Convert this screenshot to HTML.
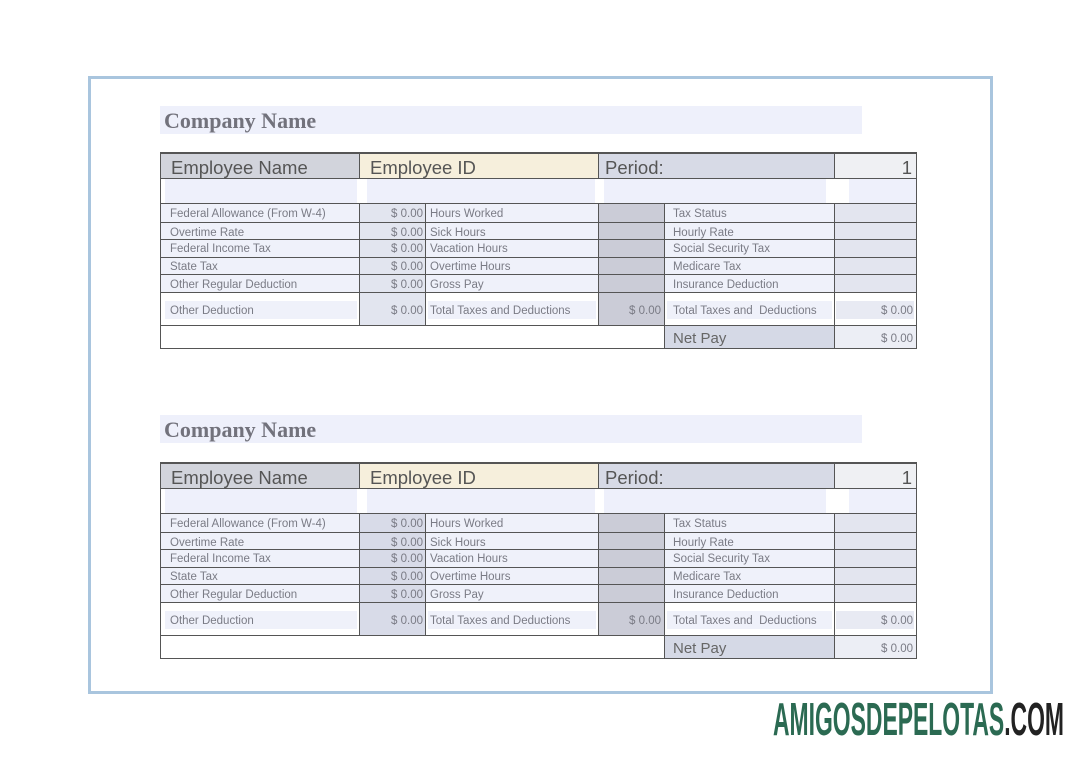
<!DOCTYPE html>
<html><head><meta charset="utf-8"><style>
*{margin:0;padding:0;box-sizing:border-box}
body{width:1085px;height:757px;background:#fff;position:relative;overflow:hidden;font-family:"Liberation Sans",sans-serif}
.frame{position:absolute;left:88px;top:76px;width:905px;height:618px;border:3px solid #a9c5de}
.a{position:absolute}
.co{position:absolute;left:160px;width:702px;height:28px;background:#eef0fb;font-family:"Liberation Serif",serif;font-weight:bold;font-size:22px;color:#72727c;padding-left:4px;line-height:30px}
.t{position:absolute;left:0;top:0;width:1085px;height:200px}
.h{position:absolute;height:1px;background:#555}
.v{position:absolute;width:1px;background:#555}
.tx{position:absolute;font-size:11.5px;color:#7a7b85;white-space:nowrap;margin-top:2px}
.r{text-align:right}
.hd{position:absolute;font-size:18.5px;color:#555;white-space:nowrap;margin-top:2px}
.wm{position:absolute;left:0;top:0}
</style></head><body>
<div class="frame"></div>

<div class="co" style="top:106px">Company Name</div>
<div class="t" style="top:152px">
 <div class="a" style="left:160px;top:0;width:199px;height:26px;background:#d2d4dc"></div>
 <div class="a" style="left:359px;top:0;width:239px;height:26px;background:#f6efdc"></div>
 <div class="a" style="left:598px;top:0;width:236px;height:26px;background:#d7dae6"></div>
 <div class="a" style="left:834px;top:0;width:82px;height:26px;background:#eff0f3"></div>
 <div class="a" style="left:165px;top:27px;width:192px;height:24px;background:#eef0fb"></div>
 <div class="a" style="left:367px;top:27px;width:228px;height:24px;background:#eef0fb"></div>
 <div class="a" style="left:604px;top:27px;width:222px;height:24px;background:#eef0fb"></div>
 <div class="a" style="left:849px;top:27px;width:67px;height:24px;background:#eef0fb"></div>
 <div class="a" style="left:160px;top:51px;width:199px;height:89px;background:#eff1fa"></div>
 <div class="a" style="left:359px;top:51px;width:66px;height:122px;background:#e2e5ef"></div>
 <div class="a" style="left:425px;top:51px;width:173px;height:89px;background:#eff1fa"></div>
 <div class="a" style="left:598px;top:51px;width:66px;height:122px;background:#cbccd7"></div>
 <div class="a" style="left:664px;top:51px;width:170px;height:89px;background:#eff1fa"></div>
 <div class="a" style="left:834px;top:51px;width:82px;height:89px;background:#e3e5ef"></div>
 <div class="a" style="left:165px;top:149px;width:192px;height:18px;background:#eff1fa"></div>
 <div class="a" style="left:428px;top:149px;width:168px;height:18px;background:#eff1fa"></div>
 <div class="a" style="left:667px;top:149px;width:165px;height:18px;background:#eff1fa"></div>
 <div class="a" style="left:836px;top:149px;width:78px;height:18px;background:#e8eaf3"></div>
 <div class="a" style="left:664px;top:173px;width:170px;height:23px;background:#d5d9e6"></div>
 <div class="a" style="left:834px;top:173px;width:82px;height:23px;background:#eceef5"></div>
 <div class="h" style="left:160px;top:0;width:757px;height:2px"></div>
 <div class="h" style="left:160px;top:26px;width:757px"></div>
 <div class="h" style="left:160px;top:51px;width:757px"></div>
 <div class="h" style="left:160px;top:70px;width:757px"></div>
 <div class="h" style="left:160px;top:87px;width:757px"></div>
 <div class="h" style="left:160px;top:105px;width:757px"></div>
 <div class="h" style="left:160px;top:122px;width:757px"></div>
 <div class="h" style="left:160px;top:140px;width:757px"></div>
 <div class="h" style="left:160px;top:173px;width:757px"></div>
 <div class="h" style="left:160px;top:196px;width:757px"></div>
 <div class="v" style="left:160px;top:0;height:197px"></div>
 <div class="v" style="left:916px;top:0;height:197px"></div>
 <div class="v" style="left:359px;top:0;height:26px"></div>
 <div class="v" style="left:359px;top:51px;height:122px"></div>
 <div class="v" style="left:425px;top:51px;height:122px"></div>
 <div class="v" style="left:598px;top:0;height:26px"></div>
 <div class="v" style="left:598px;top:51px;height:122px"></div>
 <div class="v" style="left:664px;top:51px;height:145px"></div>
 <div class="v" style="left:834px;top:0;height:26px"></div>
 <div class="v" style="left:834px;top:51px;height:145px"></div>
 <div class="hd" style="left:171px;top:3px">Employee Name</div>
 <div class="hd" style="left:370px;top:3px">Employee ID</div>
 <div class="hd" style="left:605px;top:3px">Period:</div>
 <div class="hd r" style="left:840px;top:3px;width:72px">1</div>
 <div class="tx" style="left:170px;top:54px">Federal Allowance (From W-4)</div>
 <div class="tx" style="left:170px;top:73px">Overtime Rate</div>
 <div class="tx" style="left:170px;top:89px">Federal Income Tax</div>
 <div class="tx" style="left:170px;top:107px">State Tax</div>
 <div class="tx" style="left:170px;top:125px">Other Regular Deduction</div>
 <div class="tx" style="left:170px;top:151px">Other Deduction</div>
 <div class="tx r" style="left:360px;top:54px;width:63px">$ 0.00</div>
 <div class="tx r" style="left:360px;top:73px;width:63px">$ 0.00</div>
 <div class="tx r" style="left:360px;top:89px;width:63px">$ 0.00</div>
 <div class="tx r" style="left:360px;top:107px;width:63px">$ 0.00</div>
 <div class="tx r" style="left:360px;top:125px;width:63px">$ 0.00</div>
 <div class="tx r" style="left:360px;top:151px;width:63px">$ 0.00</div>
 <div class="tx" style="left:430px;top:54px">Hours Worked</div>
 <div class="tx" style="left:430px;top:73px">Sick Hours</div>
 <div class="tx" style="left:430px;top:89px">Vacation Hours</div>
 <div class="tx" style="left:430px;top:107px">Overtime Hours</div>
 <div class="tx" style="left:430px;top:125px">Gross Pay</div>
 <div class="tx" style="left:430px;top:151px">Total Taxes and Deductions</div>
 <div class="tx r" style="left:599px;top:151px;width:62px">$ 0.00</div>
 <div class="tx" style="left:673px;top:54px">Tax Status</div>
 <div class="tx" style="left:673px;top:73px">Hourly Rate</div>
 <div class="tx" style="left:673px;top:89px">Social Security Tax</div>
 <div class="tx" style="left:673px;top:107px">Medicare Tax</div>
 <div class="tx" style="left:673px;top:125px">Insurance Deduction</div>
 <div class="tx" style="left:673px;top:151px">Total Taxes and&nbsp; Deductions</div>
 <div class="tx r" style="left:835px;top:151px;width:78px">$ 0.00</div>
 <div class="hd" style="left:673px;top:176px;font-size:15px;color:#666">Net Pay</div>
 <div class="tx r" style="left:835px;top:179px;width:78px">$ 0.00</div>
</div>

<div class="co" style="top:415px">Company Name</div>
<div class="t" style="top:462px">
 <div class="a" style="left:160px;top:0;width:199px;height:26px;background:#d2d4dc"></div>
 <div class="a" style="left:359px;top:0;width:239px;height:26px;background:#f6efdc"></div>
 <div class="a" style="left:598px;top:0;width:236px;height:26px;background:#d7dae6"></div>
 <div class="a" style="left:834px;top:0;width:82px;height:26px;background:#eff0f3"></div>
 <div class="a" style="left:165px;top:27px;width:192px;height:24px;background:#eef0fb"></div>
 <div class="a" style="left:367px;top:27px;width:228px;height:24px;background:#eef0fb"></div>
 <div class="a" style="left:604px;top:27px;width:222px;height:24px;background:#eef0fb"></div>
 <div class="a" style="left:849px;top:27px;width:67px;height:24px;background:#eef0fb"></div>
 <div class="a" style="left:160px;top:51px;width:199px;height:89px;background:#eff1fa"></div>
 <div class="a" style="left:359px;top:51px;width:66px;height:122px;background:#d8dbe8"></div>
 <div class="a" style="left:425px;top:51px;width:173px;height:89px;background:#eff1fa"></div>
 <div class="a" style="left:598px;top:51px;width:66px;height:122px;background:#cbccd7"></div>
 <div class="a" style="left:664px;top:51px;width:170px;height:89px;background:#eff1fa"></div>
 <div class="a" style="left:834px;top:51px;width:82px;height:89px;background:#e3e5ef"></div>
 <div class="a" style="left:165px;top:149px;width:192px;height:18px;background:#eff1fa"></div>
 <div class="a" style="left:428px;top:149px;width:168px;height:18px;background:#eff1fa"></div>
 <div class="a" style="left:667px;top:149px;width:165px;height:18px;background:#eff1fa"></div>
 <div class="a" style="left:836px;top:149px;width:78px;height:18px;background:#e8eaf3"></div>
 <div class="a" style="left:664px;top:173px;width:170px;height:23px;background:#d5d9e6"></div>
 <div class="a" style="left:834px;top:173px;width:82px;height:23px;background:#eceef5"></div>
 <div class="h" style="left:160px;top:0;width:757px;height:2px"></div>
 <div class="h" style="left:160px;top:26px;width:757px"></div>
 <div class="h" style="left:160px;top:51px;width:757px"></div>
 <div class="h" style="left:160px;top:70px;width:757px"></div>
 <div class="h" style="left:160px;top:87px;width:757px"></div>
 <div class="h" style="left:160px;top:105px;width:757px"></div>
 <div class="h" style="left:160px;top:122px;width:757px"></div>
 <div class="h" style="left:160px;top:140px;width:757px"></div>
 <div class="h" style="left:160px;top:173px;width:757px"></div>
 <div class="h" style="left:160px;top:196px;width:757px"></div>
 <div class="v" style="left:160px;top:0;height:197px"></div>
 <div class="v" style="left:916px;top:0;height:197px"></div>
 <div class="v" style="left:359px;top:0;height:26px"></div>
 <div class="v" style="left:359px;top:51px;height:122px"></div>
 <div class="v" style="left:425px;top:51px;height:122px"></div>
 <div class="v" style="left:598px;top:0;height:26px"></div>
 <div class="v" style="left:598px;top:51px;height:122px"></div>
 <div class="v" style="left:664px;top:51px;height:145px"></div>
 <div class="v" style="left:834px;top:0;height:26px"></div>
 <div class="v" style="left:834px;top:51px;height:145px"></div>
 <div class="hd" style="left:171px;top:3px">Employee Name</div>
 <div class="hd" style="left:370px;top:3px">Employee ID</div>
 <div class="hd" style="left:605px;top:3px">Period:</div>
 <div class="hd r" style="left:840px;top:3px;width:72px">1</div>
 <div class="tx" style="left:170px;top:54px">Federal Allowance (From W-4)</div>
 <div class="tx" style="left:170px;top:73px">Overtime Rate</div>
 <div class="tx" style="left:170px;top:89px">Federal Income Tax</div>
 <div class="tx" style="left:170px;top:107px">State Tax</div>
 <div class="tx" style="left:170px;top:125px">Other Regular Deduction</div>
 <div class="tx" style="left:170px;top:151px">Other Deduction</div>
 <div class="tx r" style="left:360px;top:54px;width:63px">$ 0.00</div>
 <div class="tx r" style="left:360px;top:73px;width:63px">$ 0.00</div>
 <div class="tx r" style="left:360px;top:89px;width:63px">$ 0.00</div>
 <div class="tx r" style="left:360px;top:107px;width:63px">$ 0.00</div>
 <div class="tx r" style="left:360px;top:125px;width:63px">$ 0.00</div>
 <div class="tx r" style="left:360px;top:151px;width:63px">$ 0.00</div>
 <div class="tx" style="left:430px;top:54px">Hours Worked</div>
 <div class="tx" style="left:430px;top:73px">Sick Hours</div>
 <div class="tx" style="left:430px;top:89px">Vacation Hours</div>
 <div class="tx" style="left:430px;top:107px">Overtime Hours</div>
 <div class="tx" style="left:430px;top:125px">Gross Pay</div>
 <div class="tx" style="left:430px;top:151px">Total Taxes and Deductions</div>
 <div class="tx r" style="left:599px;top:151px;width:62px">$ 0.00</div>
 <div class="tx" style="left:673px;top:54px">Tax Status</div>
 <div class="tx" style="left:673px;top:73px">Hourly Rate</div>
 <div class="tx" style="left:673px;top:89px">Social Security Tax</div>
 <div class="tx" style="left:673px;top:107px">Medicare Tax</div>
 <div class="tx" style="left:673px;top:125px">Insurance Deduction</div>
 <div class="tx" style="left:673px;top:151px">Total Taxes and&nbsp; Deductions</div>
 <div class="tx r" style="left:835px;top:151px;width:78px">$ 0.00</div>
 <div class="hd" style="left:673px;top:176px;font-size:15px;color:#666">Net Pay</div>
 <div class="tx r" style="left:835px;top:179px;width:78px">$ 0.00</div>
</div>

<svg class="wm" width="1085" height="757" viewBox="0 0 1085 757">
 <text x="773" y="735" font-family="Liberation Sans, sans-serif" font-weight="bold" font-size="46" textLength="291" lengthAdjust="spacingAndGlyphs" fill="#2b6a52">AMIGOSDEPELOTAS<tspan fill="#222">.COM</tspan></text>
</svg>
</body></html>
